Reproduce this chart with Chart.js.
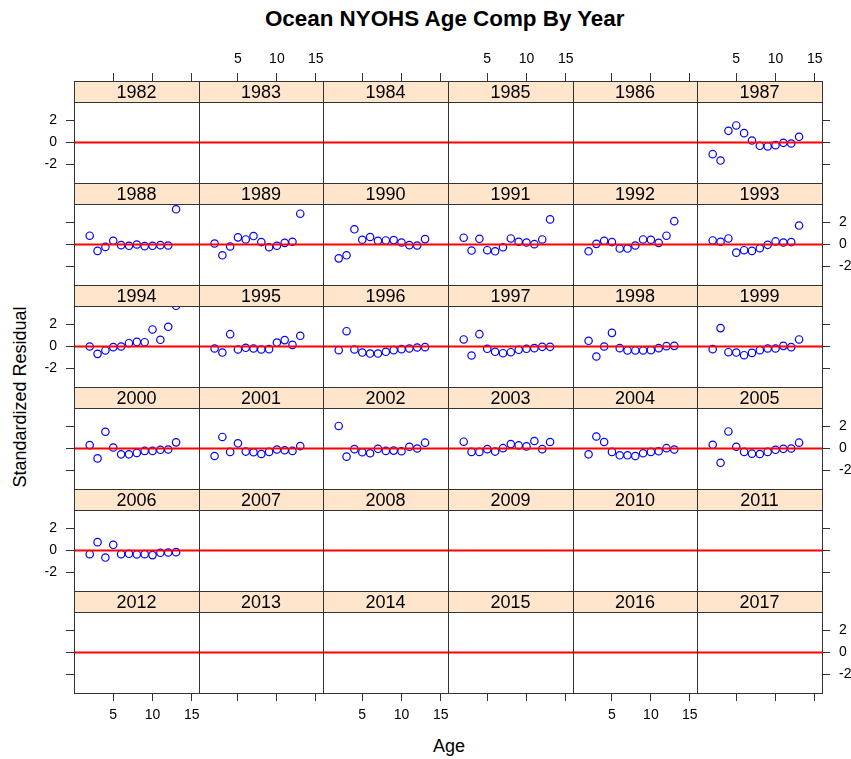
<!DOCTYPE html>
<html>
<head>
<meta charset="utf-8">
<script src="https://cdn.jsdelivr.net/npm/chart.js@4/dist/chart.umd.min.js"></script>
<style>
html,body{margin:0;padding:0;background:#fff;overflow:hidden;width:851px;height:759px;}
#wrap{position:relative;width:851px;height:759px;font-family:"Liberation Sans",Arial,sans-serif;color:#000;}
#wrap canvas{position:absolute;}
.lbl{position:absolute;white-space:nowrap;line-height:1;}
#title{left:444.7px;top:8px;transform:translateX(-50%);font-weight:bold;font-size:22.4px;}
#xlab{left:449px;top:737px;transform:translateX(-50%);font-size:18px;}
#ylab{left:20px;top:397px;transform:translate(-50%,-50%) rotate(-90deg);font-size:18px;}
</style>
</head>
<body>
<div id="wrap">
  <div id="title" class="lbl">Ocean NYOHS Age Comp By Year</div>
  <div id="xlab" class="lbl">Age</div>
  <div id="ylab" class="lbl">Standardized Residual</div>
</div>
<script>
// ---------- data ----------
const years = [1982,1983,1984,1985,1986,1987,
               1988,1989,1990,1991,1992,1993,
               1994,1995,1996,1997,1998,1999,
               2000,2001,2002,2003,2004,2005,
               2006,2007,2008,2009,2010,2011,
               2012,2013,2014,2015,2016,2017];
const ages = [2,3,4,5,6,7,8,9,10,11,12,13];
const xTicks = [5,10,15];
const yTicks = [-2,0,2];

const r1987 = [-1.06,-1.64,1.06,1.55,0.85,0.18,-0.30,-0.36,-0.24,-0.03,-0.09,0.52];
const r1988 = [0.80,-0.58,-0.22,0.34,-0.06,-0.12,0.00,-0.15,-0.12,-0.06,-0.09,3.20];
const r1989 = [0.09,-0.98,-0.18,0.65,0.46,0.77,0.22,-0.25,-0.12,0.15,0.25,2.80];
const r1990 = [-1.26,-0.98,1.38,0.43,0.68,0.34,0.37,0.40,0.18,-0.06,-0.09,0.49];
const r1991 = [0.62,-0.55,0.52,-0.52,-0.62,-0.25,0.55,0.25,0.18,0.03,0.46,2.28];
const r1992 = [-0.62,0.06,0.34,0.22,-0.37,-0.37,-0.09,0.46,0.43,0.15,0.80,2.12];
const r1993 = [0.37,0.25,0.55,-0.74,-0.52,-0.58,-0.34,-0.03,0.28,0.18,0.22,1.72];
const r1994 = [0.00,-0.67,-0.36,-0.06,0.00,0.30,0.42,0.39,1.55,0.61,1.79,3.70];
const r1995 = [-0.18,-0.55,1.12,-0.27,-0.12,-0.18,-0.27,-0.24,0.36,0.58,0.15,0.97];
const r1996 = [-0.33,1.39,-0.27,-0.55,-0.64,-0.64,-0.48,-0.33,-0.24,-0.18,-0.09,-0.06];
const r1997 = [0.64,-0.82,1.12,-0.21,-0.48,-0.61,-0.52,-0.30,-0.21,-0.15,-0.03,-0.03];
const r1998 = [0.52,-0.91,0.00,1.24,-0.15,-0.36,-0.36,-0.36,-0.33,-0.15,0.03,0.06];
const r1999 = [-0.24,1.67,-0.52,-0.55,-0.79,-0.58,-0.33,-0.18,-0.18,0.06,-0.06,0.64];
const r2000 = [0.31,-0.90,1.52,0.09,-0.53,-0.53,-0.40,-0.22,-0.22,-0.12,-0.09,0.56];
const r2001 = [-0.68,1.05,-0.31,0.47,-0.28,-0.34,-0.50,-0.31,-0.09,-0.16,-0.22,0.22];
const r2002 = [2.05,-0.74,-0.06,-0.34,-0.43,-0.03,-0.22,-0.19,-0.25,0.16,0.00,0.53];
const r2003 = [0.62,-0.31,-0.31,-0.06,-0.28,0.03,0.40,0.28,0.19,0.68,-0.06,0.59];
const r2004 = [-0.53,1.09,0.59,-0.31,-0.62,-0.62,-0.68,-0.43,-0.31,-0.25,0.03,-0.09];
const r2005 = [0.34,-1.30,1.55,0.16,-0.31,-0.47,-0.50,-0.31,-0.12,-0.03,0.00,0.53];
const r2006 = [-0.33,0.76,-0.64,0.52,-0.33,-0.30,-0.36,-0.33,-0.42,-0.21,-0.18,-0.15];

const residByYear = {
  1987:r1987,1988:r1988,1989:r1989,1990:r1990,1991:r1991,1992:r1992,1993:r1993,
  1994:r1994,1995:r1995,1996:r1996,1997:r1997,1998:r1998,1999:r1999,
  2000:r2000,2001:r2001,2002:r2002,2003:r2003,2004:r2004,2005:r2005,2006:r2006
};

// ---------- layout ----------
const X_EDGES = [74,199,323,448,573,697,822];
const ROW_TOP = [81,183,285,387,489,591];
const ROW_H = 102, STRIP_H = 21, BODY_H = 81;
const PAD = 50;
const X_MIN = 0, X_MAX = 15.92;
const Y_HALF = 3.68;
const Y_MAX_EXT = -Y_HALF + ROW_H * (2*Y_HALF/BODY_H);
const NCOL = 6, NROW = 6;
const FONT = '"Liberation Sans", Arial, sans-serif';
const LINE_COL = '#333';

Chart.defaults.font.family = FONT;
Chart.defaults.color = '#000';

const stripPlugin = {
  id: 'strip',
  afterDatasetsDraw(chart, args, opts) {
    const {ctx, chartArea: a} = chart;
    ctx.save();
    ctx.fillStyle = '#FFE5CC';
    ctx.fillRect(a.left, a.top, a.right - a.left, STRIP_H);
    ctx.strokeStyle = LINE_COL;
    ctx.lineWidth = 1;
    ctx.beginPath();
    ctx.moveTo(a.left, a.top + STRIP_H + 0.5);
    ctx.lineTo(a.right, a.top + STRIP_H + 0.5);
    ctx.stroke();
    ctx.fillStyle = '#000';
    ctx.font = '18px ' + FONT;
    ctx.textAlign = 'center';
    ctx.textBaseline = 'middle';
    ctx.fillText(opts.label, (a.left + a.right) / 2, a.top + STRIP_H / 2 + 1.5);
    ctx.restore();
  }
};

function axisX(position, showTicks, showLabels, pad) {
  return {
    type: 'linear', position: position, min: X_MIN, max: X_MAX,
    afterBuildTicks: ax => { ax.ticks = xTicks.map(v => ({value: v})); },
    afterFit: ax => { ax.height = PAD; },
    grid: {display: true, drawOnChartArea: false, drawTicks: true, tickLength: 8,
           color: showTicks ? LINE_COL : 'rgba(0,0,0,0)', lineWidth: 1},
    border: {display: true, color: LINE_COL, width: 1, z: 2},
    ticks: {autoSkip: false, maxRotation: 0, minRotation: 0, padding: pad,
            font: {size: 14}, color: '#000',
            callback: v => showLabels ? String(v) : ''}
  };
}
function axisY(position, showTicks, showLabels) {
  return {
    type: 'linear', position: position, min: -Y_HALF, max: Y_MAX_EXT,
    afterBuildTicks: ax => { ax.ticks = yTicks.map(v => ({value: v})); },
    afterFit: ax => { ax.width = PAD; },
    grid: {display: true, drawOnChartArea: false, drawTicks: true, tickLength: 8,
           color: showTicks ? LINE_COL : 'rgba(0,0,0,0)', lineWidth: 1},
    border: {display: true, color: LINE_COL, width: 1, z: 2},
    ticks: {autoSkip: false, padding: 9, font: {size: 14}, color: '#000',
            callback: v => showLabels ? String(v) : ''}
  };
}

const wrap = document.getElementById('wrap');
years.forEach((yr, i) => {
  const r = Math.floor(i / NCOL), c = i % NCOL;
  const x0 = X_EDGES[c], w = X_EDGES[c+1] - X_EDGES[c];
  const y0 = ROW_TOP[r];
  const cv = document.createElement('canvas');
  cv.width = w + 2*PAD; cv.height = ROW_H + 2*PAD;
  cv.style.left = (x0 - PAD) + 'px';
  cv.style.top = (y0 - PAD) + 'px';
  cv.style.width = cv.width + 'px';
  cv.style.height = cv.height + 'px';
  wrap.appendChild(cv);

  const vals = residByYear[yr] || [];
  const pts = vals.map((v, k) => ({x: ages[k], y: v}));

  new Chart(cv, {
    type: 'scatter',
    data: {
      datasets: [
        {type: 'line', data: [{x: X_MIN, y: 0}, {x: X_MAX, y: 0}],
         borderColor: '#ff0000', borderWidth: 2.2, pointRadius: 0, fill: false,
         xAxisID: 'x', yAxisID: 'y'},
        {data: pts, showLine: false, pointStyle: 'circle', pointRadius: 3.7,
         pointBorderWidth: 1.2, pointBorderColor: '#0000ff',
         pointBackgroundColor: 'rgba(0,0,0,0)', xAxisID: 'x', yAxisID: 'y'}
      ]
    },
    options: {
      responsive: false, maintainAspectRatio: false, animation: false,
      devicePixelRatio: 1, events: [],
      layout: {padding: 0},
      plugins: {legend: {display: false}, tooltip: {enabled: false},
                title: {display: false}, strip: {label: String(yr)}},
      scales: {
        x: axisX('bottom', r === NROW-1, r === NROW-1 && c % 2 === 0, 6),
        x2: axisX('top', r === 0, r === 0 && c % 2 === 1, 5),
        y: axisY('left', c === 0, c === 0 && r % 2 === 0),
        y2: axisY('right', c === NCOL-1, c === NCOL-1 && r % 2 === 1)
      }
    },
    plugins: [stripPlugin]
  });
});
</script>
</body>
</html>
